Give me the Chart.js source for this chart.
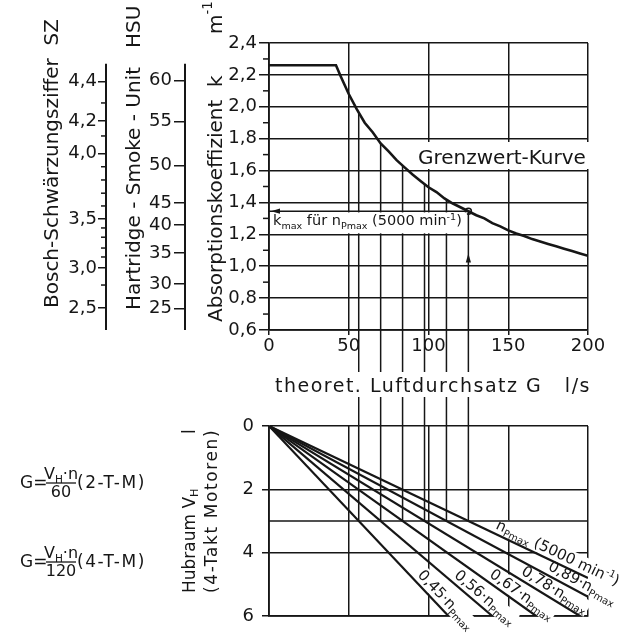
<!DOCTYPE html>
<html lang="de">
<head>
<meta charset="utf-8">
<title>Grenzwert-Kurve</title>
<script src="https://cdn.jsdelivr.net/npm/chart.js@4.4.1/dist/chart.umd.min.js"></script>
<style>
  html, body { margin: 0; padding: 0; background: #fff; }
  #wrap { position: relative; width: 629px; height: 636px; overflow: hidden; background: #fff; }
  #wrap canvas { position: absolute; left: 0; top: 0; }
</style>
</head>
<body>
<div id="wrap">
  <canvas id="cTop" width="629" height="636"></canvas>
  <canvas id="cBottom" width="629" height="636"></canvas>
</div>
<script>
// ---------------- data ----------------
const curveG = [0, 42, 45, 50, 55, 60, 65, 70, 75, 80, 85, 90, 95, 100, 105, 110, 115, 120, 125, 130, 135, 140, 145, 150, 155, 160, 165, 170, 175, 180, 185, 190, 195, 200];
const curveK = [2.26, 2.26, 2.19, 2.08, 1.985, 1.90, 1.84, 1.77, 1.72, 1.665, 1.62, 1.575, 1.535, 1.495, 1.465, 1.425, 1.395, 1.37, 1.345, 1.32, 1.30, 1.27, 1.25, 1.225, 1.205, 1.19, 1.17, 1.155, 1.14, 1.125, 1.11, 1.095, 1.08, 1.065];
const gTicks = [0, 50, 100, 150, 200];
const kTicks = [0.6, 0.8, 1.0, 1.2, 1.4, 1.6, 1.8, 2.0, 2.2, 2.4];
const kMinorTicks = [0.7, 0.9, 1.1, 1.3, 1.5, 1.7, 1.9, 2.1, 2.3];
const boschLabels = ['2,5', '3,0', '3,5', '4,0', '4,2', '4,4'];
const boschAtK = [0.738, 0.989, 1.296, 1.706, 1.911, 2.158];
const boschMinorAtK = [0.882, 1.058, 1.114, 1.182, 1.240, 1.378, 1.458, 1.541, 1.624, 1.817, 2.024];
const hsuLabels = ['25', '30', '35', '40', '45', '50', '55', '60'];
const hsuAtK = [0.736, 0.889, 1.083, 1.259, 1.397, 1.633, 1.909, 2.165];
const speedFractions = ['0,45', '0,56', '0,67', '0,78', '0,89', '1'];
const fracG = [56.25, 70, 83.75, 97.5, 111.25, 125];      // G at V_H = 3 l
const rayEndG = [112.5, 140, 167.5, 195, 200, 200];
const rayEndV = [6, 6, 6, 6, 5.39, 4.8];
const vTicks = [0, 2, 4, 6];
const vHExample = 3;

// ---------------- style ----------------
const INK = '#161616';
const FAM = '"DejaVu Sans", "Liberation Sans", sans-serif';
Chart.defaults.font.family = FAM;
Chart.defaults.color = INK;
const tickFont = { family: FAM, size: 18 };
const gridBase = { color: INK, lineWidth: 1.5, tickColor: INK, tickWidth: 1.5 };
const rayLabelStartV = [4.83, 4.87, 4.87, 4.8, 4.66, 3.37];

function kAt(g) {
  for (let i = 1; i < curveG.length; i++) {
    if (g <= curveG[i]) {
      const t = (g - curveG[i - 1]) / (curveG[i] - curveG[i - 1]);
      return curveK[i - 1] + t * (curveK[i] - curveK[i - 1]);
    }
  }
  return curveK[curveK.length - 1];
}
const kMax = kAt(fracG[5]);

function line(ctx, x1, y1, x2, y2) { ctx.beginPath(); ctx.moveTo(x1, y1); ctx.lineTo(x2, y2); ctx.stroke(); }
function drawRuns(ctx, runs, x, y, size, measureOnly) {
  let cx = x;
  for (const r of runs) {
    const s = r.s ? size * 0.66 : size;
    ctx.font = `${s}px ${FAM}`;
    const dy = r.s === 'sub' ? size * 0.24 : (r.s === 'sup' ? -size * 0.4 : 0);
    if (!measureOnly) ctx.fillText(r.t, cx, y + dy);
    cx += ctx.measureText(r.t).width;
  }
  return cx - x;
}
function vRuns(ctx, runs, cx, yStart, size, spacing) {
  ctx.save();
  ctx.translate(cx, yStart); ctx.rotate(-Math.PI / 2);
  ctx.textBaseline = 'middle'; ctx.textAlign = 'left';
  if (spacing) ctx.letterSpacing = spacing + 'px';
  drawRuns(ctx, runs, 0, 0, size);
  ctx.restore();
}
function arrowHead(ctx, tx, ty, dx, dy, len, half) {
  const px = -dy, py = dx;
  ctx.beginPath();
  ctx.moveTo(tx, ty);
  ctx.lineTo(tx - dx * len + px * half, ty - dy * len + py * half);
  ctx.lineTo(tx - dx * len - px * half, ty - dy * len - py * half);
  ctx.closePath(); ctx.fill();
}

// ---------------- top chart ----------------
const topDatasets = [];
topDatasets.push({ data: curveG.map((g, i) => ({ x: g, y: curveK[i] })), borderColor: INK, borderWidth: 2.6, pointRadius: 0, showLine: true, yAxisID: 'k' });
fracG.forEach(g => topDatasets.push({ data: [{ x: g, y: kAt(g) }, { x: g, y: kTicks[0] }], borderColor: INK, borderWidth: 1.5, pointRadius: 0, showLine: true, yAxisID: 'k' }));
topDatasets.push({ data: [{ x: 0, y: kMax }, { x: fracG[5], y: kMax }], borderColor: INK, borderWidth: 1.6, pointRadius: 0, showLine: true, yAxisID: 'k' });
topDatasets.push({ data: [{ x: fracG[5], y: kMax }], pointRadius: 3, pointBackgroundColor: '#fff', pointBorderColor: INK, pointBorderWidth: 1.5, showLine: false, yAxisID: 'k' });

const topDecor = {
  id: 'topDecor',
  afterDraw(chart) {
    const { ctx, chartArea: ca, scales } = chart;
    const k = scales.k, x = scales.x, b = scales.bosch, h = scales.hsu;
    ctx.save();
    ctx.strokeStyle = INK; ctx.fillStyle = INK; ctx.lineWidth = 1.5;
    kMinorTicks.forEach(v => { const y = k.getPixelForValue(v); line(ctx, k.right - 6, y, k.right, y); });
    ctx.lineWidth = 2;
    const yTop = k.getPixelForValue(2.27);
    [b, h].forEach(s => line(ctx, s.right, yTop, s.right, ca.bottom));
    ctx.lineWidth = 1.5;
    boschMinorAtK.forEach(v => { const y = b.getPixelForValue(v); line(ctx, b.right - 5, y, b.right, y); });

    // axis titles
    ctx.fillStyle = INK;
    vRuns(ctx, [{ t: 'Bosch-Schwärzungsziffer  SZ' }], b.left + 53, 308, 20);
    vRuns(ctx, [{ t: 'Hartridge - Smoke - Unit   HSU' }], h.left + 29, 310, 20);
    vRuns(ctx, [{ t: 'Absorptionskoeffizient  k' }], k.left + 32, 322, 20);
    vRuns(ctx, [{ t: 'm' }, { t: '-1', s: 'sup' }], k.left + 32, 34, 20);

    // k_max box
    const xr = x.getPixelForValue(fracG[5]);
    const yk = k.getPixelForValue(kMax), y12 = k.getPixelForValue(1.2);
    ctx.fillStyle = '#fff';
    ctx.fillRect(ca.left + 1.5, yk + 1.2, xr - ca.left - 3, y12 - yk - 2.2);
    ctx.fillStyle = INK;
    ctx.textBaseline = 'alphabetic'; ctx.textAlign = 'left';
    drawRuns(ctx, [{ t: 'k' }, { t: 'max', s: 'sub' }, { t: ' für n' }, { t: 'Pmax', s: 'sub' }, { t: ' (5000 min' }, { t: '-1', s: 'sup' }, { t: ')' }], ca.left + 4, y12 - 9, 14.5);
    arrowHead(ctx, ca.left + 2, yk, -1, 0, 9, 2.6);
    arrowHead(ctx, xr, k.getPixelForValue(1.08), 0, -1, 9, 2.6);

    // Grenzwert label
    ctx.fillStyle = '#fff';
    ctx.fillRect(414, 142, 184, 27);
    ctx.fillStyle = INK;
    ctx.font = `20px ${FAM}`;
    ctx.fillText('Grenzwert-Kurve', 418, 164);
    ctx.restore();
  }
};

const chartTop = new Chart(document.getElementById('cTop'), {
  type: 'scatter',
  data: { datasets: topDatasets },
  options: {
    responsive: false, animation: false, events: [], devicePixelRatio: 1,
    layout: { padding: { left: 0, top: 43, right: 41, bottom: 264 } },
    plugins: { legend: { display: false }, tooltip: { enabled: false } },
    scales: {
      x: {
        type: 'linear', min: 0, max: 200, position: 'bottom',
        afterBuildTicks: s => { s.ticks = gTicks.map(v => ({ value: v })); },
        afterFit: s => { s.height = 42; },
        ticks: { font: tickFont, color: INK, padding: 1, maxRotation: 0, autoSkip: false, callback: v => String(v) },
        grid: { ...gridBase, tickLength: 5 },
        border: { display: true, color: INK, width: 1.8 }
      },
      k: {
        axis: 'y', type: 'linear', position: 'left', weight: 1, min: 0.6, max: 2.4,
        afterBuildTicks: s => { s.ticks = kTicks.map(v => ({ value: v })); },
        afterFit: s => { s.width = 84; },
        ticks: { font: tickFont, color: INK, padding: 2, autoSkip: false, callback: v => v.toFixed(1).replace('.', ',') },
        grid: { ...gridBase, tickLength: 10 },
        border: { display: true, color: INK, width: 1.8 }
      },
      hsu: {
        axis: 'y', type: 'linear', position: 'left', weight: 2, min: 0.6, max: 2.4,
        afterBuildTicks: s => { s.ticks = hsuAtK.map(v => ({ value: v })); },
        afterFit: s => { s.width = 79; },
        ticks: { font: tickFont, color: INK, padding: 2, autoSkip: false, callback: (v, i) => hsuLabels[i] },
        grid: { ...gridBase, drawOnChartArea: false, tickLength: 11 },
        border: { display: false }
      },
      bosch: {
        axis: 'y', type: 'linear', position: 'left', weight: 3, min: 0.6, max: 2.4,
        afterBuildTicks: s => { s.ticks = boschAtK.map(v => ({ value: v })); },
        afterFit: s => { s.width = 106; },
        ticks: { font: tickFont, color: INK, padding: 1, autoSkip: false, callback: (v, i) => boschLabels[i] },
        grid: { ...gridBase, drawOnChartArea: false, tickLength: 8 },
        border: { display: false }
      }
    }
  },
  plugins: [topDecor]
});

// ---------------- bottom chart ----------------
const bottomDatasets = [];
rayEndG.forEach((g, i) => bottomDatasets.push({ data: [{ x: 0, y: 0 }, { x: g, y: rayEndV[i] }], borderColor: INK, borderWidth: 2.2, pointRadius: 0, showLine: true, yAxisID: 'v' }));
fracG.forEach(g => bottomDatasets.push({ data: [{ x: g, y: 0 }, { x: g, y: vHExample }], borderColor: INK, borderWidth: 1.5, pointRadius: 0, showLine: true, yAxisID: 'v' }));
bottomDatasets.push({ data: [{ x: 0, y: vHExample }, { x: 200, y: vHExample }], borderColor: INK, borderWidth: 1.6, pointRadius: 0, showLine: true, yAxisID: 'v' });

const bottomDecor = {
  id: 'bottomDecor',
  beforeDatasetsDraw(chart) {
    const { ctx, scales } = chart;
    const x = scales.x, v = scales.v;
    ctx.save();
    const x0 = x.getPixelForValue(0), y0 = v.getPixelForValue(0);
    rayEndG.forEach((g, i) => {
      const ang = Math.atan2(v.getPixelForValue(rayEndV[i]) - y0, x.getPixelForValue(g) - x0);
      const vs = rayLabelStartV[i];
      const ax = x.getPixelForValue(vs * g / rayEndV[i]), ay = v.getPixelForValue(vs);
      const runs = i < 5
        ? [{ t: speedFractions[i] + '·n' }, { t: 'Pmax', s: 'sub' }]
        : [{ t: 'n' }, { t: 'Pmax', s: 'sub' }, { t: ' (5000 min' }, { t: '-1', s: 'sup' }, { t: ')' }];
      ctx.save();
      ctx.translate(ax, ay); ctx.rotate(ang);
      ctx.textBaseline = 'alphabetic'; ctx.textAlign = 'left';
      const w = drawRuns(ctx, runs, 0, 0, 15, true);
      const d = 5;
      ctx.fillStyle = '#fff';
      ctx.fillRect(-1, -d - 13, w + 2, 17);
      ctx.fillStyle = INK;
      drawRuns(ctx, runs, 0, -d, 15);
      ctx.restore();
    });
    ctx.restore();
  },
  afterDraw(chart) {
    const { ctx, chartArea: ca, scales } = chart;
    const x = scales.x;
    ctx.save();
    ctx.strokeStyle = INK; ctx.fillStyle = INK; ctx.lineWidth = 1.5;
    const yFrom = chartTop.chartArea.bottom;
    fracG.forEach(g => { const px = x.getPixelForValue(g); line(ctx, px, yFrom, px, ca.top); });

    // x-axis title between the diagrams
    ctx.fillStyle = '#fff';
    ctx.fillRect(272, 372, 326, 25);
    ctx.fillStyle = INK;
    ctx.textBaseline = 'alphabetic'; ctx.textAlign = 'left';
    ctx.font = `19px ${FAM}`;
    ctx.letterSpacing = '1.5px';
    ctx.fillText('theoret. Luftdurchsatz G   l/s', 275, 392);
    ctx.letterSpacing = '0px';

    // formulas
    function formula(yBase, denom, tag) {
      ctx.letterSpacing = '0px';
      ctx.textAlign = 'left';
      ctx.font = `17px ${FAM}`;
      ctx.fillText('G=', 20, yBase);
      const num = [{ t: 'V' }, { t: 'H', s: 'sub' }, { t: '·n' }];
      const wn = drawRuns(ctx, num, 0, 0, 16, true);
      const cx = 61;
      drawRuns(ctx, num, cx - wn / 2, yBase - 9, 16);
      ctx.lineWidth = 1.3;
      line(ctx, 46, yBase - 5, 76, yBase - 5);
      ctx.font = `16px ${FAM}`; ctx.textAlign = 'center';
      ctx.fillText(denom, cx, yBase + 9);
      ctx.textAlign = 'left';
      ctx.font = `17px ${FAM}`;
      ctx.letterSpacing = '1.5px';
      ctx.fillText(tag, 77, yBase);
      ctx.letterSpacing = '0px';
    }
    formula(488, '60', '(2-T-M)');
    formula(567, '120', '(4-T-M)');

    // y title of lower diagram
    vRuns(ctx, [{ t: 'Hubraum V' }, { t: 'H', s: 'sub' }], 191, 593, 17);
    vRuns(ctx, [{ t: 'l' }], 191, 434, 17);
    vRuns(ctx, [{ t: '(4-Takt Motoren)' }], 213, 593, 17, 1.6);
    ctx.restore();
  }
};

const chartBottom = new Chart(document.getElementById('cBottom'), {
  type: 'scatter',
  data: { datasets: bottomDatasets },
  options: {
    responsive: false, animation: false, events: [], devicePixelRatio: 1,
    layout: { padding: { left: 0, top: 426, right: 41, bottom: 20 } },
    plugins: { legend: { display: false }, tooltip: { enabled: false } },
    scales: {
      x: {
        type: 'linear', min: 0, max: 200, position: 'bottom',
        afterBuildTicks: s => { s.ticks = gTicks.map(v => ({ value: v })); },
        afterFit: s => { s.height = 0; },
        ticks: { display: false },
        grid: { ...gridBase, drawTicks: false },
        border: { display: true, color: INK, width: 1.8 }
      },
      v: {
        axis: 'y', type: 'linear', position: 'left', reverse: true, min: 0, max: 6,
        afterBuildTicks: s => { s.ticks = vTicks.map(v => ({ value: v })); },
        afterFit: s => { s.width = 269; },
        ticks: { font: tickFont, color: INK, padding: 8, autoSkip: false, callback: v => String(v) },
        grid: { ...gridBase, tickLength: 7 },
        border: { display: true, color: INK, width: 1.8 }
      }
    }
  },
  plugins: [bottomDecor]
});
</script>
</body>
</html>
